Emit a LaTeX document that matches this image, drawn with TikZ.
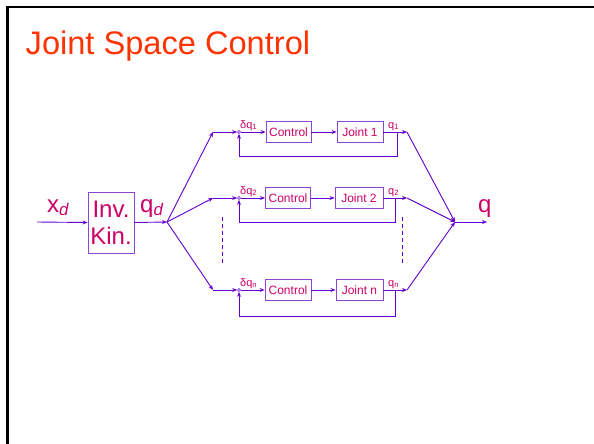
\documentclass[tikz,border=0pt]{standalone}
\usepackage{fontspec}
\setmainfont{Liberation Sans}
\usetikzlibrary{arrows.meta}
\definecolor{linecol}{RGB}{102,0,204}
\definecolor{boxcol}{RGB}{140,70,210}
\definecolor{labcol}{RGB}{204,0,102}
\definecolor{titlecol}{RGB}{255,51,0}

\begin{document}
\begin{tikzpicture}[x=1pt,y=-1pt,
    blk/.style={draw=boxcol,line width=0.9pt,minimum height=21pt,inner sep=0pt,text=labcol,font=\fontsize{12}{14}\selectfont},
    sig/.style={linecol,line width=0.9pt,-{Stealth[length=5pt,width=4pt]}},
    wire/.style={linecol,line width=0.9pt},
    lab/.style={text=labcol,inner sep=0pt,anchor=base west,font=\fontsize{11}{13}\selectfont},
    biglab/.style={text=labcol,inner sep=0pt,anchor=base west,font=\fontsize{24}{27}\selectfont},
    sum/.style={circle,draw=linecol,line width=0.6pt,minimum size=3pt,inner sep=0pt}]
    \useasboundingbox (0,0) rectangle (594,444);
    % slide frame and title
    \draw[line width=2.5pt] (7.5,444) -- (7.5,7) -- (594,7);
    \node[anchor=base west,inner sep=0pt,text=titlecol,font=\fontsize{32.6}{38}\selectfont] (title) at (25.5,54.5) {Joint Space Control};

    % inverse kinematics
    \coordinate (xin) at (37,222);
    \node[draw=boxcol,line width=0.9pt,minimum width=46pt,minimum height=61pt,inner sep=0pt,align=center,text=labcol,font=\fontsize{24}{27.4}\selectfont] (ik) at (111,222.5) {Inv.\\Kin.};
    \coordinate (qd) at (167,222);
    \node[biglab] (xdl) at (47,212) {x\textsubscript{\textit{d}}};
    \node[biglab] (qdl) at (140,212) {q\textsubscript{\textit{d}}};
    \draw[sig] (xin) -- (ik.west);
    \draw[sig] (ik.east) -- (qd);

    % joint 1
    \coordinate (c1) at (213,132);
    \node[sum] (s1) at (239,132) {};
    \node[blk,minimum width=45pt] (ctl1) at (288.5,132) {Control};
    \node[blk,minimum width=46pt] (jnt1) at (360,132) {Joint 1};
    \coordinate (o1) at (407,132);
    \coordinate (f1) at (397,156);
    \node[lab] (dq1) at (240,128) {δq\textsubscript{1}};
    \node[lab] (q1) at (388,128) {q\textsubscript{1}};

    % joint 2
    \coordinate (c2) at (213,198);
    \node[sum] (s2) at (239,198) {};
    \node[blk,minimum width=45pt] (ctl2) at (288,198) {Control};
    \node[blk,minimum width=48pt] (jnt2) at (359,198) {Joint 2};
    \coordinate (o2) at (407,198);
    \coordinate (f2) at (395,222);
    \node[lab] (dq2) at (240,194) {δq\textsubscript{2}};
    \node[lab] (q2) at (388,194) {q\textsubscript{2}};

    % joint n
    \coordinate (c3) at (213,290);
    \node[sum] (s3) at (239,290) {};
    \node[blk,minimum width=46pt] (ctl3) at (288,290) {Control};
    \node[blk,minimum width=47pt] (jnt3) at (359.5,290) {Joint n};
    \coordinate (o3) at (407,290);
    \coordinate (f3) at (395,316);
    \node[lab] (dq3) at (240,286) {δq\textsubscript{n}};
    \node[lab] (q3) at (388,286) {q\textsubscript{n}};

    % output
    \coordinate (qo) at (455,222);
    \coordinate (qend) at (487,222);
    \node[biglab] (ql) at (478,212) {q};
    \draw[sig] (qo) -- (qend);

    \draw[sig] (qd) -- (c1);
    \draw[sig] (c1) -- (s1);
    \draw[sig] (s1) -- (ctl1);
    \draw[sig] (ctl1) -- (jnt1);
    \draw[sig] (jnt1) -- (o1);
    \draw[sig] (o1) -- (qo);
    \draw[sig] (f1 |- o1) -- (f1) -| (s1.south);

    \draw[sig] (qd) -- (c2);
    \draw[sig] (c2) -- (s2);
    \draw[sig] (s2) -- (ctl2);
    \draw[sig] (ctl2) -- (jnt2);
    \draw[sig] (jnt2) -- (o2);
    \draw[sig] (o2) -- (qo);
    \draw[sig] (f2 |- o2) -- (f2) -| (s2.south);

    \draw[sig] (qd) -- (c3);
    \draw[sig] (c3) -- (s3);
    \draw[sig] (s3) -- (ctl3);
    \draw[sig] (ctl3) -- (jnt3);
    \draw[sig] (jnt3) -- (o3);
    \draw[sig] (o3) -- (qo);
    \draw[sig] (f3 |- o3) -- (f3) -| (s3.south);

    % dots between joint 2 and joint n
    \draw[wire,dash pattern=on 4pt off 3pt] (222,217) -- (222,263);
    \draw[wire,dash pattern=on 4pt off 3pt] (402,217) -- (402,263);
\end{tikzpicture}
\end{document}
